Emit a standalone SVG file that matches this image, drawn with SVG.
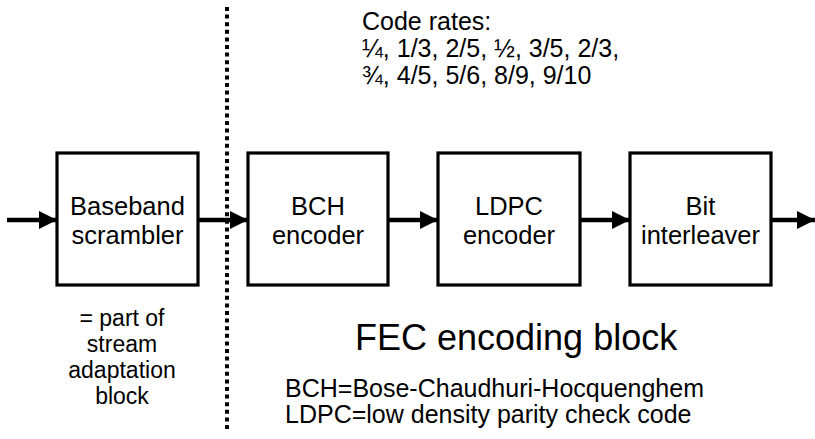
<svg xmlns="http://www.w3.org/2000/svg" width="815" height="439" viewBox="0 0 815 439">
<style>
.box{fill:#fff;stroke:#000;stroke-width:3.2}
.lbl{font-family:"Liberation Sans",Arial,sans-serif;font-size:25.5px;fill:#000;text-anchor:middle}
.txt{font-family:"Liberation Sans",Arial,sans-serif;font-size:25px;fill:#000}
.cap{font-family:"Liberation Sans",Arial,sans-serif;font-size:23px;fill:#000;text-anchor:middle}
.big{font-family:"Liberation Sans",Arial,sans-serif;font-size:36px;fill:#000}
.conn{stroke:#000;stroke-width:4.5;fill:none}
</style>
<defs>
<marker id="ah" markerUnits="userSpaceOnUse" markerWidth="18" markerHeight="18" viewBox="0 0 17 17" refX="17" refY="8.5" orient="auto">
<path d="M0,0 L17,8.5 L0,17 Z" fill="#000"/>
</marker>
</defs>
<line x1="227" y1="7" x2="227" y2="430" stroke="#000" stroke-width="4" stroke-dasharray="4 3.6"/>
<g id="connectors">
<line class="conn" x1="7" y1="220" x2="57" y2="220" marker-end="url(#ah)"/>
<line class="conn" x1="198" y1="220" x2="248" y2="220" marker-end="url(#ah)"/>
<line class="conn" x1="388" y1="220" x2="438" y2="220" marker-end="url(#ah)"/>
<line class="conn" x1="580" y1="220" x2="630" y2="220" marker-end="url(#ah)"/>
<line class="conn" x1="771" y1="220" x2="815" y2="220" marker-end="url(#ah)"/>
</g>
<g id="baseband">
<rect class="box" x="57" y="153" width="141" height="132"/>
<text class="lbl" x="127.5" y="215">Baseband</text>
<text class="lbl" x="127.5" y="244">scrambler</text>
</g>
<g id="bch">
<rect class="box" x="248" y="153" width="140" height="132"/>
<text class="lbl" x="318" y="215">BCH</text>
<text class="lbl" x="318" y="244">encoder</text>
</g>
<g id="ldpc">
<rect class="box" x="438" y="153" width="142" height="132"/>
<text class="lbl" x="509" y="215">LDPC</text>
<text class="lbl" x="509" y="244">encoder</text>
</g>
<g id="bit">
<rect class="box" x="630" y="153" width="141" height="132"/>
<text class="lbl" x="700.5" y="215">Bit</text>
<text class="lbl" x="700.5" y="244">interleaver</text>
</g>
<g id="coderates">
<text class="txt" x="362" y="30">Code rates:</text>
<text class="txt" x="362" y="57">¼, 1/3, 2/5, ½, 3/5, 2/3,</text>
<text class="txt" x="362" y="84">¾, 4/5, 5/6, 8/9, 9/10</text>
</g>
<g id="caption">
<text class="cap" x="122" y="326">= part of</text>
<text class="cap" x="122" y="352">stream</text>
<text class="cap" x="122" y="378">adaptation</text>
<text class="cap" x="122" y="404">block</text>
</g>
<text class="big" x="355" y="350">FEC encoding block</text>
<g id="legend">
<text class="txt" x="285" y="397">BCH=Bose-Chaudhuri-Hocquenghem</text>
<text class="txt" x="285" y="423">LDPC=low density parity check code</text>
</g>
</svg>
